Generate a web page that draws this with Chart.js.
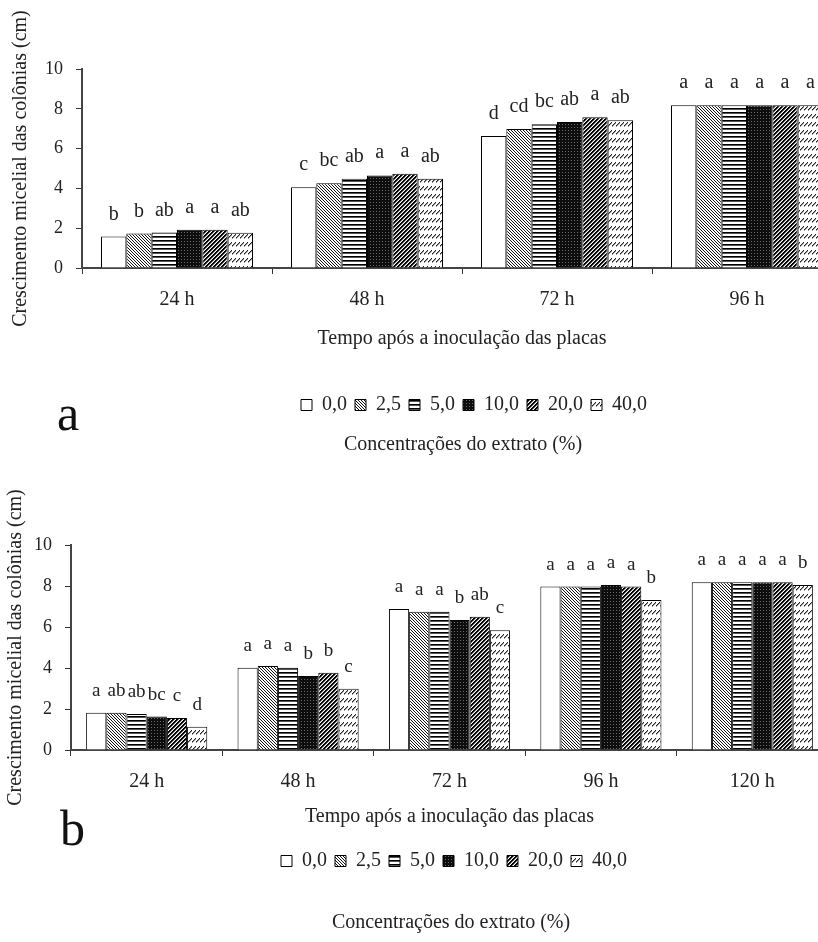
<!DOCTYPE html>
<html>
<head>
<meta charset="utf-8">
<script src="https://cdn.jsdelivr.net/npm/chart.js@4/dist/chart.umd.min.js"></script>
<style>
  html, body { margin: 0; padding: 0; background: #fff; }
  body { width: 818px; height: 942px; overflow: hidden; position: relative; }
  canvas { position: absolute; left: 0; }
  #chartA { top: 0; }
  #chartB { top: 480px; }
  .panel { position: absolute; font-family: "Liberation Serif", "Times New Roman", serif; font-size: 50px; line-height: 1; color: #111; }
</style>
</head>
<body>
<canvas id="chartA" width="924" height="470"></canvas>
<canvas id="chartB" width="900" height="462"></canvas>
<div class="panel" style="left:57px; top:388px;">a</div>
<div class="panel" style="left:60px; top:803px;">b</div>
<script>
// Series (extract concentration, %) and tick labels
const concLabels = ['0,0', '2,5', '5,0', '10,0', '20,0', '40,0'];
const timesA = ['24 h', '48 h', '72 h', '96 h'];
const timesB = ['24 h', '48 h', '72 h', '96 h', '120 h'];
const yTickValues = [0, 2, 4, 6, 8, 10];

// Panel a - mycelial growth (cm)
const a00 = [1.58, 4.06, 6.63, 8.18];
const a25 = [1.73, 4.26, 6.98, 8.18];
const a50 = [1.78, 4.49, 7.22, 8.18];
const a10 = [1.92, 4.65, 7.34, 8.18];
const a20 = [1.92, 4.73, 7.58, 8.18];
const a40 = [1.77, 4.48, 7.42, 8.18];
// Panel a - significance letters
const aLet00 = ['b', 'c', 'd', 'a'];
const aLet25 = ['b', 'bc', 'cd', 'a'];
const aLet50 = ['ab', 'ab', 'bc', 'a'];
const aLet10 = ['a', 'a', 'ab', 'a'];
const aLet20 = ['a', 'a', 'a', 'a'];
const aLet40 = ['ab', 'ab', 'ab', 'a'];

// Panel b - mycelial growth (cm)
const b00 = [1.82, 4.01, 6.88, 7.97, 8.18];
const b25 = [1.82, 4.10, 6.75, 7.97, 8.18];
const b50 = [1.76, 4.01, 6.75, 7.97, 8.18];
const b10 = [1.63, 3.61, 6.34, 8.05, 8.18];
const b20 = [1.56, 3.77, 6.50, 7.97, 8.18];
const b40 = [1.14, 2.99, 5.84, 7.32, 8.05];
// Panel b - significance letters
const bLet00 = ['a', 'a', 'a', 'a', 'a'];
const bLet25 = ['ab', 'a', 'a', 'a', 'a'];
const bLet50 = ['ab', 'a', 'a', 'a', 'a'];
const bLet10 = ['bc', 'b', 'b', 'a', 'a'];
const bLet20 = ['c', 'b', 'ab', 'a', 'a'];
const bLet40 = ['d', 'c', 'c', 'b', 'b'];

const serif = '"Liberation Serif", "Times New Roman", serif';
Chart.defaults.font.family = serif;
Chart.defaults.color = '#222';

// Build a small repeating tile and turn it into a fill pattern
function makePattern(w, h, bg, pixels) {
    const c = document.createElement('canvas');
    c.width = w;
    c.height = h;
    const g = c.getContext('2d');
    g.fillStyle = bg;
    g.fillRect(0, 0, w, h);
    pixels.forEach(p => {
        g.fillStyle = p[2];
        g.fillRect(p[0], p[1], 1, 1);
    });
    return g.createPattern(c, 'repeat');
}

function barFills() {
    const back = [], horiz = [], fwd = [], dots = [], dash = [];
    for (let k = 0; k < 3; k++) back.push([k, k, '#111']);
    for (let x = 0; x < 4; x++) { horiz.push([x, 0, '#000']); horiz.push([x, 1, '#555']); }
    for (let k = 0; k < 4; k++) {
        fwd.push([3 - k, k, '#000']);
        fwd.push([(4 - k) % 4, k, '#000']);
        fwd.push([(5 - k) % 4, k, '#888']);
    }
    dots.push([1, 1, '#6a6a6a']);
    for (let k = 0; k < 4; k++) {
        dash.push([k, 5 - k, '#222']);
        dash.push([k, 6 - k, '#999']);
    }
    return [
        '#ffffff',
        makePattern(3, 3, '#fff', back),
        makePattern(4, 4, '#fff', horiz),
        makePattern(3, 3, '#0d0d0d', dots),
        makePattern(4, 4, '#fff', fwd),
        makePattern(4, 8, '#fff', dash)
    ];
}

// Draws the letter above each bar
const letterPlugin = {
    id: 'letters',
    afterDatasetsDraw(chart, args, opts) {
        const ctx = chart.ctx;
        ctx.save();
        ctx.font = opts.size + 'px ' + serif;
        ctx.fillStyle = '#222';
        ctx.textAlign = 'center';
        ctx.textBaseline = 'alphabetic';
        chart.data.datasets.forEach((ds, i) => {
            chart.getDatasetMeta(i).data.forEach((bar, j) => {
                ctx.fillText(ds.letters[j], bar.x, bar.y - opts.gap);
            });
        });
        ctx.restore();
    }
};

// The canvas is wider than the page (plot is cut at the right edge),
// so nudge legend and bottom title to sit under the plot
const shiftPlugin = {
    id: 'shiftBoxes',
    afterLayout(chart, args, opts) {
        chart.legend.left += opts.legend;
        chart.legend.right += opts.legend;
        chart.titleBlock.left += opts.title;
        chart.titleBlock.right += opts.title;
    }
};

function makeChart(id, labels, values, letters, geo) {
    const fills = barFills();
    const datasets = values.map((v, i) => ({
        label: concLabels[i],
        data: v,
        letters: letters[i],
        backgroundColor: fills[i],
        borderColor: '#000',
        borderWidth: 1,
        categoryPercentage: 0.8,
        barPercentage: 1.0
    }));
    return new Chart(document.getElementById(id), {
        type: 'bar',
        data: { labels: labels, datasets: datasets },
        plugins: [letterPlugin, shiftPlugin],
        options: {
            responsive: false,
            animation: false,
            layout: { padding: { top: geo.top, right: geo.right, bottom: geo.bottom, left: 0 } },
            plugins: {
                tooltip: { enabled: false },
                letters: { size: geo.letterSize, gap: 17 },
                shiftBoxes: { legend: geo.legendShift, title: geo.titleShift },
                legend: {
                    position: 'bottom',
                    labels: { boxWidth: 11, boxHeight: 11, padding: 8, font: { size: 20 }, color: '#222' }
                },
                title: {
                    display: true,
                    position: 'bottom',
                    text: 'Concentrações do extrato (%)',
                    font: { size: 20, weight: 'normal' },
                    color: '#222',
                    padding: { top: geo.legendTitleTop, bottom: 0 }
                }
            },
            scales: {
                x: {
                    afterFit: s => { s.height = geo.xHeight; },
                    grid: { display: true, drawOnChartArea: false, tickLength: 6, color: '#333', offset: true },
                    border: { color: '#444', width: 2 },
                    ticks: { font: { size: 20 }, padding: 14, color: '#222' },
                    title: {
                        display: true,
                        text: 'Tempo após a inoculação das placas',
                        font: { size: 20 },
                        color: '#222',
                        padding: { top: 0, bottom: geo.xTitleBottom }
                    }
                },
                y: {
                    min: 0,
                    max: 10,
                    afterFit: s => { s.width = geo.yWidth; },
                    afterBuildTicks: s => { s.ticks = yTickValues.map(v => ({ value: v })); },
                    grid: { drawOnChartArea: false, tickLength: 6, color: '#333' },
                    border: { color: '#444', width: 2 },
                    ticks: { font: { size: 18 }, padding: 13, color: '#222' },
                    title: {
                        display: true,
                        text: 'Crescimento micelial das colônias (cm)',
                        font: { size: 20 },
                        color: '#222',
                        padding: { top: geo.yTitleLeft, bottom: 0 }
                    }
                }
            }
        }
    });
}

makeChart('chartA', timesA, [a00, a25, a50, a10, a20, a40],
    [aLet00, aLet25, aLet50, aLet10, aLet20, aLet40],
    { top: 69, right: 82, bottom: 13, yWidth: 82, xHeight: 119, xTitleBottom: 36,
      legendTitleTop: 8, yTitleLeft: 9, letterSize: 20, legendShift: 53, titleShift: 42 });

makeChart('chartB', timesB, [b00, b25, b50, b10, b20, b40],
    [bLet00, bLet25, bLet50, bLet10, bLet20, bLet40],
    { top: 65, right: 72, bottom: 7, yWidth: 71, xHeight: 93, xTitleBottom: 14,
      legendTitleTop: 30, yTitleLeft: 4, letterSize: 19, legendShift: 40, titleShift: 37 });
</script>
</body>
</html>
